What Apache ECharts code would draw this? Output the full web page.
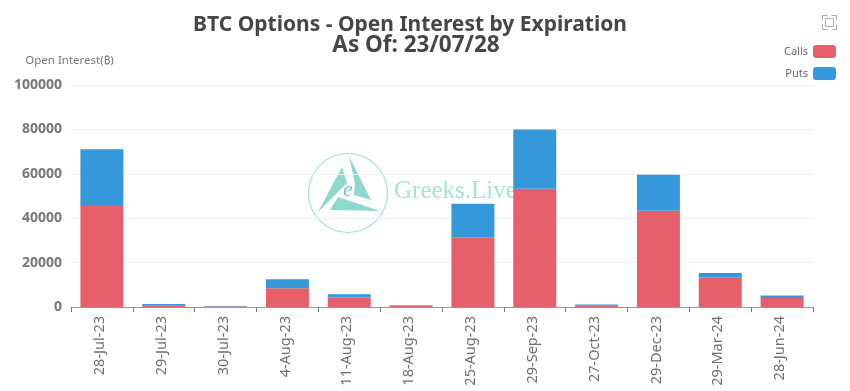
<!DOCTYPE html>
<html>
<head>
<meta charset="utf-8">
<style>html,body{margin:0;padding:0;background:#fff}#main{width:850px;height:391px}</style>
<script src="https://cdn.jsdelivr.net/npm/echarts@6/dist/echarts.min.js"></script>
</head>
<body>
<div id="main"></div>
<script>
var categories = ['28-Jul-23', '29-Jul-23', '30-Jul-23', '4-Aug-23', '11-Aug-23', '18-Aug-23', '25-Aug-23', '29-Sep-23', '27-Oct-23', '29-Dec-23', '29-Mar-24', '28-Jun-24'];
var calls = [45500, 600, 200, 8400, 4300, 600, 31400, 53300, 600, 43300, 13300, 4000];
var puts = [25600, 700, 200, 4100, 1400, 200, 15100, 26700, 500, 16300, 2000, 1200];
var yTicks = { min: 0, max: 100000, interval: 20000 };

var fontName = '"Noto Sans", "Open Sans", sans-serif';
var logoColor = '#8fd8cc';

var myChart = echarts.init(document.getElementById('main'));
var option = {
    animation: false,
    textStyle: { fontFamily: fontName },
    title: [
        {
            text: 'BTC Options - Open Interest by Expiration',
            left: 410,
            top: 15,
            textAlign: 'center',
            padding: 0,
            textStyle: { fontSize: 21, fontWeight: 'bold', color: '#464646', fontFamily: fontName }
        },
        {
            text: 'As Of: 23/07/28',
            left: 416,
            top: 34,
            textAlign: 'center',
            padding: 0,
            textStyle: { fontSize: 22.5, fontWeight: 'bold', color: '#464646', fontFamily: fontName }
        }
    ],
    toolbox: {
        right: 11,
        top: 13,
        padding: 0,
        itemSize: 14,
        feature: {
            myFull: {
                show: true,
                title: 'Full',
                icon: 'path://M0,5V0H5M9,0H14V5M14,9V14H9M5,14H0V9M3,3H11V11H3Z',
                onclick: function () {}
            }
        },
        iconStyle: { borderColor: '#aaa', color: 'none', borderWidth: 1 }
    },
    legend: {
        orient: 'vertical',
        right: 9,
        top: 40,
        align: 'right',
        itemWidth: 23,
        itemHeight: 13,
        itemGap: 9,
        data: ['Calls', 'Puts'],
        textStyle: { fontSize: 11, color: '#666', fontFamily: fontName }
    },
    grid: { left: 71, right: 37, top: 85, bottom: 84 },
    xAxis: {
        type: 'category',
        data: categories,
        axisTick: { show: true, alignWithLabel: false, length: 5, lineStyle: { color: '#777' } },
        axisLine: { lineStyle: { color: '#999', width: 1 } },
        axisLabel: { rotate: 90, interval: 0, fontSize: 14.5, color: '#6e6e6e', margin: 9, verticalAlign: 'bottom', lineHeight: 4, fontFamily: fontName }
    },
    yAxis: {
        type: 'value',
        min: yTicks.min,
        max: yTicks.max,
        interval: yTicks.interval,
        name: 'Open Interest(₿)',
        nameGap: 18,
        nameTextStyle: { fontSize: 11.5, color: '#777', align: 'center', padding: [0, 3, 0, 0], fontFamily: fontName },
        axisLine: { show: false },
        axisTick: { show: false },
        axisLabel: {
            fontSize: 14,
            fontWeight: 'bold',
            color: '#777',
            margin: 9,
            fontFamily: fontName,
            formatter: function (v) { return String(v); }
        },
        splitLine: { lineStyle: { color: '#eef0f4', width: 1 } }
    },
    // Greeks.Live watermark, sits behind the bars
    graphic: [
        {
            type: 'group',
            silent: true,
            z: 0,
            children: [
                { type: 'circle', shape: { cx: 348, cy: 193, r: 39.5 }, style: { fill: 'none', stroke: '#a8e0d6', lineWidth: 1.2 } },
                { type: 'polygon', shape: { points: [[318, 212], [342, 167], [347, 183], [340, 190]] }, style: { fill: logoColor } },
                { type: 'polygon', shape: { points: [[349, 156], [371, 200], [354, 195], [355, 183]] }, style: { fill: logoColor } },
                { type: 'polygon', shape: { points: [[330, 210], [338, 197], [380, 211]] }, style: { fill: logoColor } },
                { type: 'text', style: { x: 348, y: 190, text: 'e', font: 'italic 22px "Liberation Serif", serif', fill: '#72c8ba', textAlign: 'center', textVerticalAlign: 'middle' } },
                { type: 'text', style: { x: 394, y: 191, text: 'Greeks.Live', font: '25px "Liberation Serif", serif', fill: '#a9e0d7', textVerticalAlign: 'middle' } }
            ]
        }
    ],
    series: [
        {
            name: 'Calls',
            type: 'bar',
            stack: 'oi',
            barWidth: 43,
            itemStyle: { color: '#e5606a' },
            data: calls
        },
        {
            name: 'Puts',
            type: 'bar',
            stack: 'oi',
            barWidth: 43,
            itemStyle: { color: '#3498db' },
            data: puts
        }
    ]
};
myChart.setOption(option);
</script>
</body>
</html>
